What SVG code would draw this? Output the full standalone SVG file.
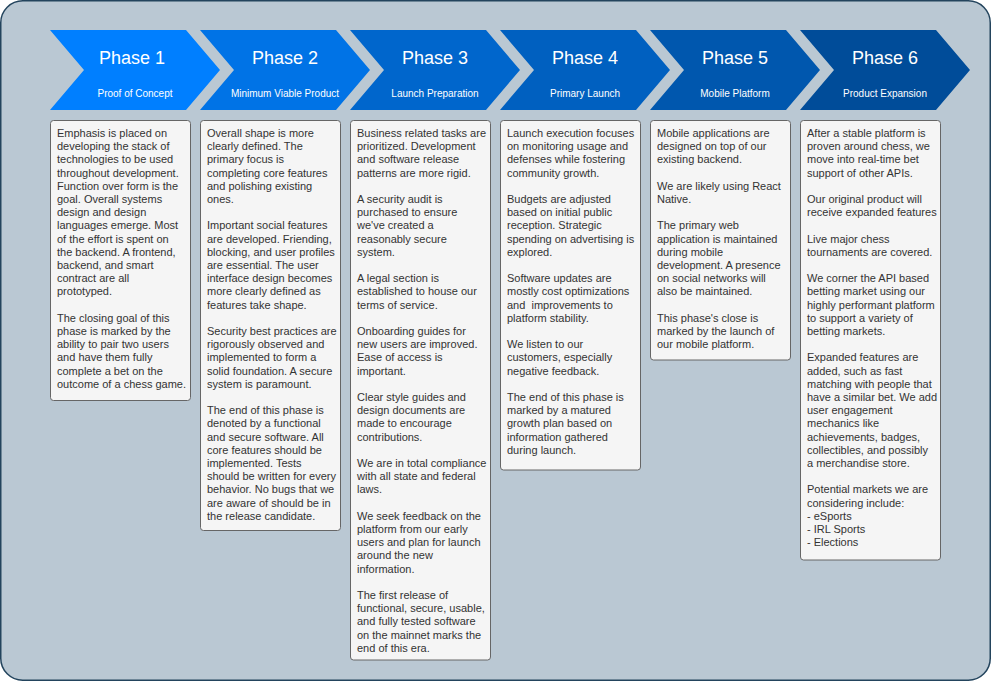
<svg xmlns="http://www.w3.org/2000/svg" width="991" height="681" viewBox="0 0 991 681">
<style>
.bg{fill:#bac8d3;stroke:#23445d;stroke-width:1.5}
.chev{stroke:none}
.ph{font-family:"Liberation Sans",Arial,sans-serif;font-size:18px;fill:#ffffff;text-anchor:middle}
.sub{font-family:"Liberation Sans",Arial,sans-serif;font-size:10px;fill:#ffffff;text-anchor:middle}
.box{fill:#f5f5f5;stroke:#666666;stroke-width:1}
.bt{font-family:"Liberation Sans",Arial,sans-serif;font-size:11px;fill:#333333}
</style>
<rect class="bg" x="0.75" y="0.75" width="989.5" height="679.5" rx="22" ry="22"/>

<g id="phase1">
<polygon class="chev" fill="#007fff" points="50,30 186,30 220,70 186,110 50,110 84,70"/>
<text class="ph" x="132" y="63.5">Phase 1</text>
<text class="sub" x="135" y="97">Proof of Concept</text>
</g>
<g id="phase2">
<polygon class="chev" fill="#0073e6" points="200,30 336,30 370,70 336,110 200,110 234,70"/>
<text class="ph" x="285" y="63.5">Phase 2</text>
<text class="sub" x="285" y="97">Minimum Viable Product</text>
</g>
<g id="phase3">
<polygon class="chev" fill="#0066cc" points="350,30 486,30 520,70 486,110 350,110 384,70"/>
<text class="ph" x="435" y="63.5">Phase 3</text>
<text class="sub" x="435" y="97">Launch Preparation</text>
</g>
<g id="phase4">
<polygon class="chev" fill="#0060c0" points="500,30 636,30 670,70 636,110 500,110 534,70"/>
<text class="ph" x="585" y="63.5">Phase 4</text>
<text class="sub" x="585" y="97">Primary Launch</text>
</g>
<g id="phase5">
<polygon class="chev" fill="#0057ae" points="650,30 786,30 820,70 786,110 650,110 684,70"/>
<text class="ph" x="735" y="63.5">Phase 5</text>
<text class="sub" x="735" y="97">Mobile Platform</text>
</g>
<g id="phase6">
<polygon class="chev" fill="#004c99" points="800,30 936,30 970,70 936,110 800,110 834,70"/>
<text class="ph" x="885" y="63.5">Phase 6</text>
<text class="sub" x="885" y="97">Product Expansion</text>
</g>

<g id="box1">
<rect class="box" x="50.5" y="120.5" width="140" height="280" rx="3" ry="3"/>
<text class="bt" y="137">
<tspan x="57">Emphasis is placed on</tspan>
<tspan x="57" dy="13.2">developing the stack of</tspan>
<tspan x="57" dy="13.2">technologies to be used</tspan>
<tspan x="57" dy="13.2">throughout development.</tspan>
<tspan x="57" dy="13.2">Function over form is the</tspan>
<tspan x="57" dy="13.2">goal. Overall systems</tspan>
<tspan x="57" dy="13.2">design and design</tspan>
<tspan x="57" dy="13.2">languages emerge. Most</tspan>
<tspan x="57" dy="13.2">of the effort is spent on</tspan>
<tspan x="57" dy="13.2">the backend. A frontend,</tspan>
<tspan x="57" dy="13.2">backend, and smart</tspan>
<tspan x="57" dy="13.2">contract are all</tspan>
<tspan x="57" dy="13.2">prototyped.</tspan>
<tspan x="57" dy="26.4">The closing goal of this</tspan>
<tspan x="57" dy="13.2">phase is marked by the</tspan>
<tspan x="57" dy="13.2">ability to pair two users</tspan>
<tspan x="57" dy="13.2">and have them fully</tspan>
<tspan x="57" dy="13.2">complete a bet on the</tspan>
<tspan x="57" dy="13.2">outcome of a chess game.</tspan>
</text>
</g>

<g id="box2">
<rect class="box" x="200.5" y="120.5" width="140" height="410" rx="3" ry="3"/>
<text class="bt" y="137">
<tspan x="207">Overall shape is more</tspan>
<tspan x="207" dy="13.2">clearly defined. The</tspan>
<tspan x="207" dy="13.2">primary focus is</tspan>
<tspan x="207" dy="13.2">completing core features</tspan>
<tspan x="207" dy="13.2">and polishing existing</tspan>
<tspan x="207" dy="13.2">ones.</tspan>
<tspan x="207" dy="26.4">Important social features</tspan>
<tspan x="207" dy="13.2">are developed. Friending,</tspan>
<tspan x="207" dy="13.2">blocking, and user profiles</tspan>
<tspan x="207" dy="13.2">are essential. The user</tspan>
<tspan x="207" dy="13.2">interface design becomes</tspan>
<tspan x="207" dy="13.2">more clearly defined as</tspan>
<tspan x="207" dy="13.2">features take shape.</tspan>
<tspan x="207" dy="26.4">Security best practices are</tspan>
<tspan x="207" dy="13.2">rigorously observed and</tspan>
<tspan x="207" dy="13.2">implemented to form a</tspan>
<tspan x="207" dy="13.2">solid foundation. A secure</tspan>
<tspan x="207" dy="13.2">system is paramount.</tspan>
<tspan x="207" dy="26.4">The end of this phase is</tspan>
<tspan x="207" dy="13.2">denoted by a functional</tspan>
<tspan x="207" dy="13.2">and secure software. All</tspan>
<tspan x="207" dy="13.2">core features should be</tspan>
<tspan x="207" dy="13.2">implemented. Tests</tspan>
<tspan x="207" dy="13.2">should be written for every</tspan>
<tspan x="207" dy="13.2">behavior. No bugs that we</tspan>
<tspan x="207" dy="13.2">are aware of should be in</tspan>
<tspan x="207" dy="13.2">the release candidate.</tspan>
</text>
</g>

<g id="box3">
<rect class="box" x="350.5" y="120.5" width="140" height="539.5" rx="3" ry="3"/>
<text class="bt" y="137">
<tspan x="357">Business related tasks are</tspan>
<tspan x="357" dy="13.2">prioritized. Development</tspan>
<tspan x="357" dy="13.2">and software release</tspan>
<tspan x="357" dy="13.2">patterns are more rigid.</tspan>
<tspan x="357" dy="26.4">A security audit is</tspan>
<tspan x="357" dy="13.2">purchased to ensure</tspan>
<tspan x="357" dy="13.2">we've created a</tspan>
<tspan x="357" dy="13.2">reasonably secure</tspan>
<tspan x="357" dy="13.2">system.</tspan>
<tspan x="357" dy="26.4">A legal section is</tspan>
<tspan x="357" dy="13.2">established to house our</tspan>
<tspan x="357" dy="13.2">terms of service.</tspan>
<tspan x="357" dy="26.4">Onboarding guides for</tspan>
<tspan x="357" dy="13.2">new users are improved.</tspan>
<tspan x="357" dy="13.2">Ease of access is</tspan>
<tspan x="357" dy="13.2">important.</tspan>
<tspan x="357" dy="26.4">Clear style guides and</tspan>
<tspan x="357" dy="13.2">design documents are</tspan>
<tspan x="357" dy="13.2">made to encourage</tspan>
<tspan x="357" dy="13.2">contributions.</tspan>
<tspan x="357" dy="26.4">We are in total compliance</tspan>
<tspan x="357" dy="13.2">with all state and federal</tspan>
<tspan x="357" dy="13.2">laws.</tspan>
<tspan x="357" dy="26.4">We seek feedback on the</tspan>
<tspan x="357" dy="13.2">platform from our early</tspan>
<tspan x="357" dy="13.2">users and plan for launch</tspan>
<tspan x="357" dy="13.2">around the new</tspan>
<tspan x="357" dy="13.2">information.</tspan>
<tspan x="357" dy="26.4">The first release of</tspan>
<tspan x="357" dy="13.2">functional, secure, usable,</tspan>
<tspan x="357" dy="13.2">and fully tested software</tspan>
<tspan x="357" dy="13.2">on the mainnet marks the</tspan>
<tspan x="357" dy="13.2">end of this era.</tspan>
</text>
</g>

<g id="box4">
<rect class="box" x="500.5" y="120.5" width="140" height="349.5" rx="3" ry="3"/>
<text class="bt" y="137">
<tspan x="507">Launch execution focuses</tspan>
<tspan x="507" dy="13.2">on monitoring usage and</tspan>
<tspan x="507" dy="13.2">defenses while fostering</tspan>
<tspan x="507" dy="13.2">community growth.</tspan>
<tspan x="507" dy="26.4">Budgets are adjusted</tspan>
<tspan x="507" dy="13.2">based on initial public</tspan>
<tspan x="507" dy="13.2">reception. Strategic</tspan>
<tspan x="507" dy="13.2">spending on advertising is</tspan>
<tspan x="507" dy="13.2">explored.</tspan>
<tspan x="507" dy="26.4">Software updates are</tspan>
<tspan x="507" dy="13.2">mostly cost optimizations</tspan>
<tspan x="507" dy="13.2">and&#160; improvements to</tspan>
<tspan x="507" dy="13.2">platform stability.</tspan>
<tspan x="507" dy="26.4">We listen to our</tspan>
<tspan x="507" dy="13.2">customers, especially</tspan>
<tspan x="507" dy="13.2">negative feedback.</tspan>
<tspan x="507" dy="26.4">The end of this phase is</tspan>
<tspan x="507" dy="13.2">marked by a matured</tspan>
<tspan x="507" dy="13.2">growth plan based on</tspan>
<tspan x="507" dy="13.2">information gathered</tspan>
<tspan x="507" dy="13.2">during launch.</tspan>
</text>
</g>

<g id="box5">
<rect class="box" x="650.5" y="120.5" width="140" height="239.5" rx="3" ry="3"/>
<text class="bt" y="137">
<tspan x="657">Mobile applications are</tspan>
<tspan x="657" dy="13.2">designed on top of our</tspan>
<tspan x="657" dy="13.2">existing backend.</tspan>
<tspan x="657" dy="26.4">We are likely using React</tspan>
<tspan x="657" dy="13.2">Native.</tspan>
<tspan x="657" dy="26.4">The primary web</tspan>
<tspan x="657" dy="13.2">application is maintained</tspan>
<tspan x="657" dy="13.2">during mobile</tspan>
<tspan x="657" dy="13.2">development. A presence</tspan>
<tspan x="657" dy="13.2">on social networks will</tspan>
<tspan x="657" dy="13.2">also be maintained.</tspan>
<tspan x="657" dy="26.4">This phase's close is</tspan>
<tspan x="657" dy="13.2">marked by the launch of</tspan>
<tspan x="657" dy="13.2">our mobile platform.</tspan>
</text>
</g>

<g id="box6">
<rect class="box" x="800.5" y="120.5" width="140" height="439.5" rx="3" ry="3"/>
<text class="bt" y="137">
<tspan x="807">After a stable platform is</tspan>
<tspan x="807" dy="13.2">proven around chess, we</tspan>
<tspan x="807" dy="13.2">move into real-time bet</tspan>
<tspan x="807" dy="13.2">support of other APIs.</tspan>
<tspan x="807" dy="26.4">Our original product will</tspan>
<tspan x="807" dy="13.2">receive expanded features</tspan>
<tspan x="807" dy="26.4">Live major chess</tspan>
<tspan x="807" dy="13.2">tournaments are covered.</tspan>
<tspan x="807" dy="26.4">We corner the API based</tspan>
<tspan x="807" dy="13.2">betting market using our</tspan>
<tspan x="807" dy="13.2">highly performant platform</tspan>
<tspan x="807" dy="13.2">to support a variety of</tspan>
<tspan x="807" dy="13.2">betting markets.</tspan>
<tspan x="807" dy="26.4">Expanded features are</tspan>
<tspan x="807" dy="13.2">added, such as fast</tspan>
<tspan x="807" dy="13.2">matching with people that</tspan>
<tspan x="807" dy="13.2">have a similar bet. We add</tspan>
<tspan x="807" dy="13.2">user engagement</tspan>
<tspan x="807" dy="13.2">mechanics like</tspan>
<tspan x="807" dy="13.2">achievements, badges,</tspan>
<tspan x="807" dy="13.2">collectibles, and possibly</tspan>
<tspan x="807" dy="13.2">a merchandise store.</tspan>
<tspan x="807" dy="26.4">Potential markets we are</tspan>
<tspan x="807" dy="13.2">considering include:</tspan>
<tspan x="807" dy="13.2">- eSports</tspan>
<tspan x="807" dy="13.2">- IRL Sports</tspan>
<tspan x="807" dy="13.2">- Elections</tspan>
</text>
</g>
</svg>
